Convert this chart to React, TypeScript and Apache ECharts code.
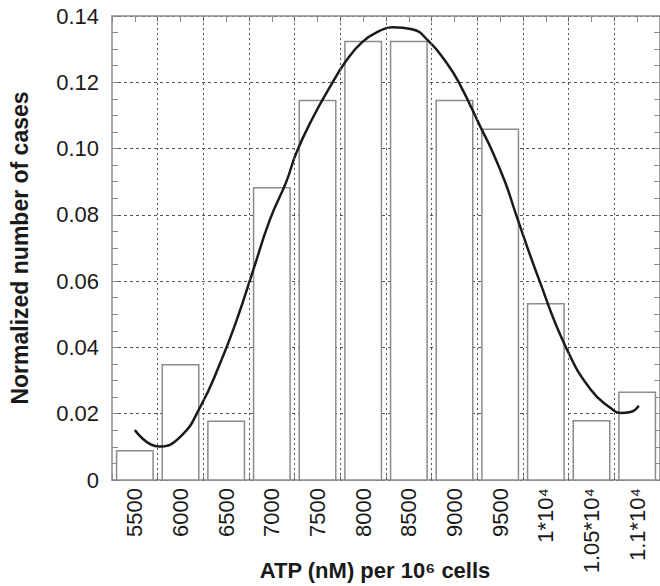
import React, { useEffect, useRef } from "react";
import * as echarts from "echarts";

// Histogram bins (ATP nM per 10^6 cells) and normalized frequencies
const binCenters = [5500, 6000, 6500, 7000, 7500, 8000, 8500, 9000, 9500, 10000, 10500, 11000];
const frequencies = [0.0088, 0.0348, 0.0177, 0.0882, 0.1145, 0.1323, 0.1323, 0.1145, 0.1058, 0.0532, 0.0179, 0.0265];
const binEdges = [5750, 6250, 6750, 7250, 7750, 8250, 8750, 9250, 9750, 10250, 10750];

// Fitted curve
const fitX = [5500, 5764, 6000, 6217, 6435, 6616, 6797, 6978, 7160, 7268, 7449, 7630, 7812, 7992, 8174, 8318, 8536, 8717, 8899, 9043, 9297, 9405, 9558, 9675, 9932, 10221, 10493, 10710, 10818, 10927, 11018];
const fitY = [0.0151, 0.0101, 0.0131, 0.0221, 0.0353, 0.0483, 0.0634, 0.0785, 0.0901, 0.0987, 0.1093, 0.1183, 0.1264, 0.1322, 0.1354, 0.1366, 0.136, 0.1324, 0.1264, 0.1202, 0.1058, 0.0997, 0.0896, 0.08, 0.06, 0.04, 0.0272, 0.0217, 0.0202, 0.0205, 0.0224];

// Tick labels
const tickValues = [5500, 6000, 6500, 7000, 7500, 8000, 8500, 9000, 9500, 10000, 10500, 11000];
const tickLabels = ["5500", "6000", "6500", "7000", "7500", "8000", "8500", "9000", "9500", "1*10⁴", "1.05*10⁴", "1.1*10⁴"];
const yTickLabels = ["0", "0.02", "0.04", "0.06", "0.08", "0.10", "0.12", "0.14"];

const binWidth = 400;
const FONT = "'Liberation Sans', Arial, sans-serif";
const FRAME = "#8a8a8a";

export default function App() {
  const ref = useRef<HTMLDivElement>(null);

  useEffect(() => {
    if (!ref.current) return;
    const chart = echarts.init(ref.current, null, { renderer: "svg" });

    const common = { min: 5250, max: 11250, interval: 250 };
    const yCommon = { min: 0, max: 0.14, interval: 0.02 };

    chart.setOption({
      animation: false,
      backgroundColor: "#ffffff",
      grid: { left: 112, right: -3, top: 16, bottom: 106, containLabel: false },
      xAxis: [
        {
          type: "value",
          position: "bottom",
          ...common,
          axisLine: { show: true, onZero: false, lineStyle: { color: FRAME, width: 1.5 } },
          axisTick: { show: true, inside: true, length: 6, lineStyle: { color: FRAME } },
          axisLabel: {
            show: true,
            rotate: 90,
            margin: 8,
            color: "#1a1a1a",
            fontFamily: FONT,
            fontSize: 22,
            padding: [16, 0, 0, 0],
            formatter: (v: number) => {
              const i = tickValues.indexOf(Math.round(v));
              return i >= 0 ? tickLabels[i] : "";
            },
          },
          splitLine: { show: false },
        },
        {
          type: "value",
          position: "top",
          ...common,
          axisLine: { show: true, onZero: false, lineStyle: { color: FRAME, width: 1.5 } },
          axisTick: { show: true, inside: true, length: 6, lineStyle: { color: FRAME } },
          axisLabel: { show: false },
          splitLine: { show: false },
        },
      ],
      yAxis: [
        {
          type: "value",
          position: "left",
          ...yCommon,
          name: "Normalized number of cases",
          nameLocation: "middle",
          nameGap: 81,
          nameRotate: 90,
          nameTextStyle: { fontFamily: FONT, fontSize: 23, fontWeight: "bold", color: "#1a1a1a" },
          axisLine: { show: true, onZero: false, lineStyle: { color: FRAME, width: 1.5 } },
          axisTick: { show: true, inside: true, length: 6, lineStyle: { color: FRAME } },
          minorTick: { show: true, splitNumber: 4, length: 6, lineStyle: { color: FRAME } },
          axisLabel: {
            margin: 13,
            color: "#1a1a1a",
            fontFamily: FONT,
            fontSize: 22,
            padding: [15, 0, 0, 0],
            formatter: (v: number) => yTickLabels[Math.round(v / 0.02)] ?? "",
          },
          splitLine: { show: true, lineStyle: { type: [3, 3], color: "#555", width: 1 } },
        },
        {
          type: "value",
          position: "right",
          ...yCommon,
          axisLine: { show: true, onZero: false, lineStyle: { color: FRAME, width: 1.5 } },
          axisTick: { show: true, inside: true, length: 6, lineStyle: { color: FRAME } },
          minorTick: { show: true, splitNumber: 4, length: 6, lineStyle: { color: FRAME } },
          axisLabel: { show: false },
          splitLine: { show: false },
        },
      ],
      graphic: [
        {
          type: "text",
          x: 375,
          y: 570,
          style: {
            text: "ATP (nM) per 10⁶ cells",
            fontFamily: FONT,
            fontSize: 22,
            fontWeight: "bold",
            fill: "#1a1a1a",
            textAlign: "center",
            textVerticalAlign: "middle",
          },
        },
      ],
      series: [
        {
          type: "custom",
          xAxisIndex: 0,
          yAxisIndex: 0,
          data: binCenters.map((c, i) => [c, frequencies[i]]),
          renderItem: (params: any, api: any) => {
            const x = api.value(0);
            const y = api.value(1);
            const p0 = api.coord([x - binWidth / 2, 0]);
            const p1 = api.coord([x + binWidth / 2, y]);
            return {
              type: "rect",
              shape: { x: p0[0], y: p1[1], width: p1[0] - p0[0], height: p0[1] - p1[1] },
              style: { fill: "#ffffff", stroke: "#8c8c8c", lineWidth: 1.5 },
            };
          },
          markLine: {
            silent: true,
            symbol: ["none", "none"],
            label: { show: false },
            lineStyle: { type: [2, 3], color: "#555", width: 1 },
            data: binEdges.map((v) => ({ xAxis: v })),
          },
          z: 2,
        },
        {
          type: "line",
          xAxisIndex: 0,
          yAxisIndex: 0,
          data: fitX.map((x, i) => [x, fitY[i]]),
          smooth: true,
          showSymbol: false,
          lineStyle: { color: "#1a1a1a", width: 2.5 },
          z: 3,
        },
      ],
    });

    return () => chart.dispose();
  }, []);

  return (
    <div
      ref={ref}
      style={{ position: "absolute", left: 0, top: 0, width: 660, height: 586, background: "#fff" }}
    />
  );
}
